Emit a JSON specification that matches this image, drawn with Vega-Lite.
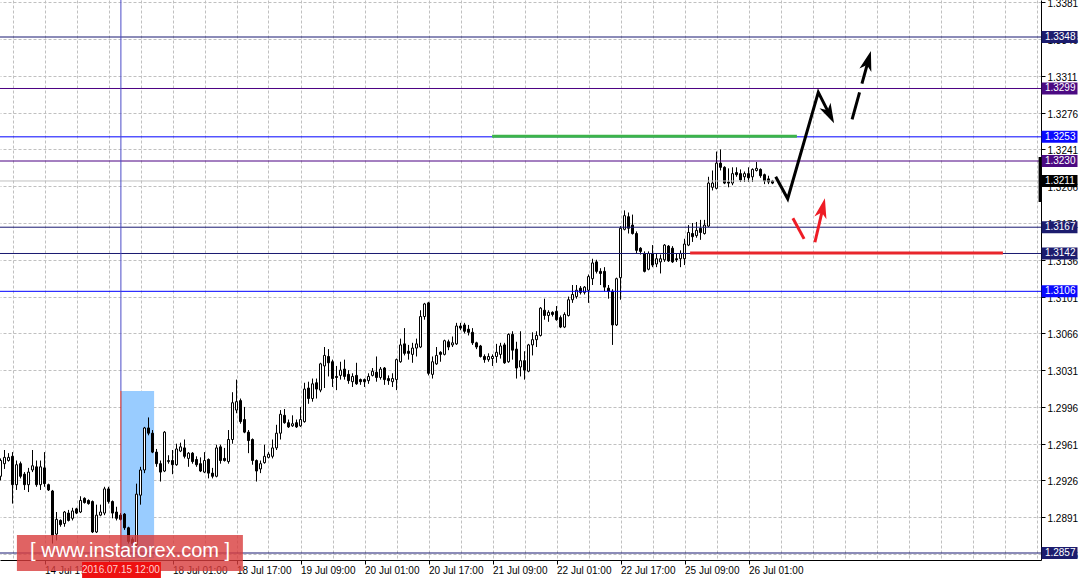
{
"$schema": "https://vega.github.io/schema/vega-lite/v6.json",
"width": 1041, "height": 560,
"autosize": {"type": "none"},
"padding": {"left": 0, "top": 0, "right": 38, "bottom": 25},
"background": "#ffffff",
"config": {"view": {"stroke": null}, "axis": {"titleOpacity": 0}},
"resolve": {"axis": {"x": "independent", "y": "independent"}},
"data": {"values": [{"anchor": 1}]},
"datasets": {
"candles": [
{"k":-3,"o":1.2930,"h":1.2947,"l":1.2926,"c":1.2945},
{"k":-2,"o":1.2942,"h":1.2955,"l":1.2937,"c":1.2948},
{"k":-1,"o":1.2945,"h":1.2952,"l":1.2944,"c":1.2948},
{"k":0,"o":1.2949,"h":1.2953,"l":1.2904,"c":1.2922},
{"k":1,"o":1.2922,"h":1.2945,"l":1.2917,"c":1.2941},
{"k":2,"o":1.2942,"h":1.2944,"l":1.2928,"c":1.2930},
{"k":3,"o":1.2932,"h":1.2934,"l":1.2917,"c":1.2922},
{"k":4,"o":1.2922,"h":1.2938,"l":1.2915,"c":1.2934},
{"k":5,"o":1.2936,"h":1.2955,"l":1.2934,"c":1.2940},
{"k":6,"o":1.2939,"h":1.2945,"l":1.2920,"c":1.2922},
{"k":7,"o":1.2922,"h":1.2945,"l":1.2917,"c":1.2939},
{"k":8,"o":1.2938,"h":1.2953,"l":1.2920,"c":1.2923},
{"k":9,"o":1.2922,"h":1.2923,"l":1.2916,"c":1.2917},
{"k":10,"o":1.2916,"h":1.2917,"l":1.2866,"c":1.2874},
{"k":11,"o":1.2875,"h":1.2896,"l":1.2869,"c":1.2889},
{"k":12,"o":1.2888,"h":1.2889,"l":1.2882,"c":1.2884},
{"k":13,"o":1.2885,"h":1.2897,"l":1.2882,"c":1.2896},
{"k":14,"o":1.2895,"h":1.2898,"l":1.2887,"c":1.2888},
{"k":15,"o":1.2890,"h":1.2900,"l":1.2888,"c":1.2897},
{"k":16,"o":1.2899,"h":1.2900,"l":1.2894,"c":1.2895},
{"k":17,"o":1.2896,"h":1.2911,"l":1.2895,"c":1.2907},
{"k":18,"o":1.2909,"h":1.2910,"l":1.2904,"c":1.2905},
{"k":19,"o":1.2907,"h":1.2908,"l":1.2903,"c":1.2904},
{"k":20,"o":1.2906,"h":1.2907,"l":1.2876,"c":1.2877},
{"k":21,"o":1.2877,"h":1.2903,"l":1.2876,"c":1.2893},
{"k":22,"o":1.2893,"h":1.2903,"l":1.2892,"c":1.2896},
{"k":23,"o":1.2895,"h":1.2920,"l":1.2893,"c":1.2918},
{"k":24,"o":1.2918,"h":1.2920,"l":1.2904,"c":1.2906},
{"k":25,"o":1.2906,"h":1.2907,"l":1.2890,"c":1.2895},
{"k":26,"o":1.2896,"h":1.2901,"l":1.2888,"c":1.2890},
{"k":27,"o":1.2893,"h":1.2895,"l":1.2888,"c":1.2889},
{"k":28,"o":1.2894,"h":1.2895,"l":1.2879,"c":1.2881},
{"k":29,"o":1.2881,"h":1.2882,"l":1.2866,"c":1.2868},
{"k":30,"o":1.2870,"h":1.2872,"l":1.2864,"c":1.2866},
{"k":31,"o":1.2865,"h":1.2923,"l":1.2863,"c":1.2913},
{"k":32,"o":1.2912,"h":1.2939,"l":1.2903,"c":1.2936},
{"k":33,"o":1.2936,"h":1.2977,"l":1.2933,"c":1.2976},
{"k":34,"o":1.2976,"h":1.2986,"l":1.2969,"c":1.2971},
{"k":35,"o":1.2971,"h":1.2974,"l":1.2952,"c":1.2953},
{"k":36,"o":1.2953,"h":1.2956,"l":1.2939,"c":1.2942},
{"k":37,"o":1.2942,"h":1.2945,"l":1.2925,"c":1.2934},
{"k":38,"o":1.2935,"h":1.2973,"l":1.2934,"c":1.2972},
{"k":39,"o":1.2944,"h":1.2950,"l":1.2942,"c":1.2945},
{"k":40,"o":1.2945,"h":1.2955,"l":1.2932,"c":1.2941},
{"k":41,"o":1.2941,"h":1.2961,"l":1.2940,"c":1.2956},
{"k":42,"o":1.2954,"h":1.2962,"l":1.2953,"c":1.2958},
{"k":43,"o":1.2957,"h":1.2965,"l":1.2947,"c":1.2949},
{"k":44,"o":1.2947,"h":1.2953,"l":1.2939,"c":1.2952},
{"k":45,"o":1.2952,"h":1.2953,"l":1.2942,"c":1.2944},
{"k":46,"o":1.2946,"h":1.2949,"l":1.2939,"c":1.2941},
{"k":47,"o":1.2942,"h":1.2948,"l":1.2934,"c":1.2935},
{"k":48,"o":1.2934,"h":1.2953,"l":1.2933,"c":1.2945},
{"k":49,"o":1.2946,"h":1.2947,"l":1.2928,"c":1.2933},
{"k":50,"o":1.2933,"h":1.2938,"l":1.2928,"c":1.2930},
{"k":51,"o":1.2930,"h":1.2960,"l":1.2929,"c":1.2957},
{"k":52,"o":1.2958,"h":1.2960,"l":1.2942,"c":1.2945},
{"k":53,"o":1.2947,"h":1.2957,"l":1.2944,"c":1.2945},
{"k":54,"o":1.2944,"h":1.2974,"l":1.2942,"c":1.2965},
{"k":55,"o":1.2965,"h":1.3010,"l":1.2961,"c":1.3000},
{"k":56,"o":1.2993,"h":1.3022,"l":1.2990,"c":1.3001},
{"k":57,"o":1.3002,"h":1.3004,"l":1.2980,"c":1.2982},
{"k":58,"o":1.2984,"h":1.2996,"l":1.2971,"c":1.2972},
{"k":59,"o":1.2972,"h":1.2974,"l":1.2952,"c":1.2964},
{"k":60,"o":1.2965,"h":1.2966,"l":1.2941,"c":1.2945},
{"k":61,"o":1.2945,"h":1.2946,"l":1.2925,"c":1.2935},
{"k":62,"o":1.2937,"h":1.2945,"l":1.2933,"c":1.2942},
{"k":63,"o":1.2943,"h":1.2960,"l":1.2942,"c":1.2949},
{"k":64,"o":1.2948,"h":1.2953,"l":1.2947,"c":1.2951},
{"k":65,"o":1.2949,"h":1.2965,"l":1.2947,"c":1.2957},
{"k":66,"o":1.2957,"h":1.2979,"l":1.2955,"c":1.2971},
{"k":67,"o":1.2971,"h":1.2993,"l":1.2965,"c":1.2989},
{"k":68,"o":1.2988,"h":1.2994,"l":1.2980,"c":1.2981},
{"k":69,"o":1.2981,"h":1.2984,"l":1.2976,"c":1.2977},
{"k":70,"o":1.2978,"h":1.2988,"l":1.2977,"c":1.2980},
{"k":71,"o":1.2981,"h":1.2984,"l":1.2976,"c":1.2977},
{"k":72,"o":1.2978,"h":1.2996,"l":1.2977,"c":1.2984},
{"k":73,"o":1.2982,"h":1.3019,"l":1.2981,"c":1.3013},
{"k":74,"o":1.3014,"h":1.3020,"l":1.2999,"c":1.3004},
{"k":75,"o":1.3004,"h":1.3023,"l":1.3001,"c":1.3018},
{"k":76,"o":1.3019,"h":1.3023,"l":1.3004,"c":1.3013},
{"k":77,"o":1.3012,"h":1.3038,"l":1.3010,"c":1.3037},
{"k":78,"o":1.3035,"h":1.3053,"l":1.3014,"c":1.3045},
{"k":79,"o":1.3044,"h":1.3051,"l":1.3025,"c":1.3038},
{"k":80,"o":1.3039,"h":1.3041,"l":1.3015,"c":1.3023},
{"k":81,"o":1.3025,"h":1.3035,"l":1.3012,"c":1.3024},
{"k":82,"o":1.3026,"h":1.3039,"l":1.3022,"c":1.3031},
{"k":83,"o":1.3032,"h":1.3041,"l":1.3022,"c":1.3025},
{"k":84,"o":1.3027,"h":1.3031,"l":1.3018,"c":1.3021},
{"k":85,"o":1.3020,"h":1.3028,"l":1.3015,"c":1.3025},
{"k":86,"o":1.3026,"h":1.3038,"l":1.3017,"c":1.3018},
{"k":87,"o":1.3022,"h":1.3023,"l":1.3017,"c":1.3020},
{"k":88,"o":1.3022,"h":1.3023,"l":1.3015,"c":1.3020},
{"k":89,"o":1.3021,"h":1.3028,"l":1.3018,"c":1.3025},
{"k":90,"o":1.3026,"h":1.3033,"l":1.3025,"c":1.3030},
{"k":91,"o":1.3029,"h":1.3044,"l":1.3020,"c":1.3024},
{"k":92,"o":1.3024,"h":1.3034,"l":1.3022,"c":1.3032},
{"k":93,"o":1.3033,"h":1.3034,"l":1.3017,"c":1.3022},
{"k":94,"o":1.3023,"h":1.3026,"l":1.3017,"c":1.3021},
{"k":95,"o":1.3020,"h":1.3028,"l":1.3015,"c":1.3023},
{"k":96,"o":1.3022,"h":1.3042,"l":1.3012,"c":1.3041},
{"k":97,"o":1.3039,"h":1.3061,"l":1.3038,"c":1.3055},
{"k":98,"o":1.3056,"h":1.3071,"l":1.3045,"c":1.3047},
{"k":99,"o":1.3049,"h":1.3055,"l":1.3041,"c":1.3047},
{"k":100,"o":1.3046,"h":1.3057,"l":1.3038,"c":1.3052},
{"k":101,"o":1.3052,"h":1.3061,"l":1.3044,"c":1.3056},
{"k":102,"o":1.3053,"h":1.3088,"l":1.3052,"c":1.3082},
{"k":103,"o":1.3082,"h":1.3095,"l":1.3079,"c":1.3094},
{"k":104,"o":1.3095,"h":1.3096,"l":1.3026,"c":1.3028},
{"k":105,"o":1.3027,"h":1.3044,"l":1.3023,"c":1.3039},
{"k":106,"o":1.3037,"h":1.3053,"l":1.3036,"c":1.3045},
{"k":107,"o":1.3048,"h":1.3049,"l":1.3039,"c":1.3046},
{"k":108,"o":1.3046,"h":1.3060,"l":1.3045,"c":1.3059},
{"k":109,"o":1.3058,"h":1.3060,"l":1.3050,"c":1.3053},
{"k":110,"o":1.3055,"h":1.3063,"l":1.3053,"c":1.3057},
{"k":111,"o":1.3056,"h":1.3076,"l":1.3055,"c":1.3073},
{"k":112,"o":1.3073,"h":1.3076,"l":1.3069,"c":1.3071},
{"k":113,"o":1.3074,"h":1.3076,"l":1.3066,"c":1.3068},
{"k":114,"o":1.3070,"h":1.3074,"l":1.3064,"c":1.3067},
{"k":115,"o":1.3067,"h":1.3071,"l":1.3055,"c":1.3057},
{"k":116,"o":1.3057,"h":1.3058,"l":1.3051,"c":1.3053},
{"k":117,"o":1.3054,"h":1.3055,"l":1.3043,"c":1.3044},
{"k":118,"o":1.3044,"h":1.3046,"l":1.3038,"c":1.3041},
{"k":119,"o":1.3041,"h":1.3047,"l":1.3039,"c":1.3044},
{"k":120,"o":1.3042,"h":1.3046,"l":1.3035,"c":1.3044},
{"k":121,"o":1.3044,"h":1.3056,"l":1.3038,"c":1.3048},
{"k":122,"o":1.3046,"h":1.3057,"l":1.3042,"c":1.3054},
{"k":123,"o":1.3055,"h":1.3057,"l":1.3037,"c":1.3038},
{"k":124,"o":1.3039,"h":1.3066,"l":1.3038,"c":1.3065},
{"k":125,"o":1.3065,"h":1.3068,"l":1.3041,"c":1.3050},
{"k":126,"o":1.3051,"h":1.3058,"l":1.3023,"c":1.3033},
{"k":127,"o":1.3034,"h":1.3068,"l":1.3025,"c":1.3040},
{"k":128,"o":1.3040,"h":1.3049,"l":1.3022,"c":1.3031},
{"k":129,"o":1.3030,"h":1.3056,"l":1.3029,"c":1.3055},
{"k":130,"o":1.3055,"h":1.3067,"l":1.3045,"c":1.3060},
{"k":131,"o":1.3060,"h":1.3068,"l":1.3053,"c":1.3064},
{"k":132,"o":1.3064,"h":1.3091,"l":1.3063,"c":1.3090},
{"k":133,"o":1.3088,"h":1.3099,"l":1.3079,"c":1.3083},
{"k":134,"o":1.3083,"h":1.3088,"l":1.3077,"c":1.3086},
{"k":135,"o":1.3086,"h":1.3087,"l":1.3082,"c":1.3084},
{"k":136,"o":1.3087,"h":1.3092,"l":1.3078,"c":1.3079},
{"k":137,"o":1.3081,"h":1.3083,"l":1.3071,"c":1.3072},
{"k":138,"o":1.3072,"h":1.3086,"l":1.3071,"c":1.3084},
{"k":139,"o":1.3083,"h":1.3101,"l":1.3082,"c":1.3098},
{"k":140,"o":1.3098,"h":1.3112,"l":1.3095,"c":1.3103},
{"k":141,"o":1.3101,"h":1.3112,"l":1.3099,"c":1.3107},
{"k":142,"o":1.3109,"h":1.3111,"l":1.3103,"c":1.3105},
{"k":143,"o":1.3105,"h":1.3111,"l":1.3103,"c":1.3110},
{"k":144,"o":1.3107,"h":1.3122,"l":1.3095,"c":1.3120},
{"k":145,"o":1.3118,"h":1.3137,"l":1.3112,"c":1.3133},
{"k":146,"o":1.3134,"h":1.3136,"l":1.3123,"c":1.3125},
{"k":147,"o":1.3125,"h":1.3128,"l":1.3112,"c":1.3123},
{"k":148,"o":1.3125,"h":1.3129,"l":1.3106,"c":1.3110},
{"k":149,"o":1.3109,"h":1.3112,"l":1.3099,"c":1.3106},
{"k":150,"o":1.3106,"h":1.3108,"l":1.3055,"c":1.3074},
{"k":151,"o":1.3074,"h":1.3119,"l":1.3073,"c":1.3118},
{"k":152,"o":1.3119,"h":1.3168,"l":1.3098,"c":1.3166},
{"k":153,"o":1.3165,"h":1.3183,"l":1.3164,"c":1.3178},
{"k":154,"o":1.3177,"h":1.3181,"l":1.3161,"c":1.3166},
{"k":155,"o":1.3169,"h":1.3179,"l":1.3160,"c":1.3161},
{"k":156,"o":1.3161,"h":1.3163,"l":1.3142,"c":1.3145},
{"k":157,"o":1.3147,"h":1.3148,"l":1.3141,"c":1.3144},
{"k":158,"o":1.3142,"h":1.3144,"l":1.3124,"c":1.3125},
{"k":159,"o":1.3127,"h":1.3144,"l":1.3126,"c":1.3142},
{"k":160,"o":1.3142,"h":1.3150,"l":1.3129,"c":1.3131},
{"k":161,"o":1.3132,"h":1.3142,"l":1.3129,"c":1.3137},
{"k":162,"o":1.3134,"h":1.3141,"l":1.3123,"c":1.3137},
{"k":163,"o":1.3136,"h":1.3151,"l":1.3134,"c":1.3150},
{"k":164,"o":1.3149,"h":1.3150,"l":1.3134,"c":1.3135},
{"k":165,"o":1.3147,"h":1.3149,"l":1.3133,"c":1.3134},
{"k":166,"o":1.3137,"h":1.3142,"l":1.3134,"c":1.3136},
{"k":167,"o":1.3137,"h":1.3145,"l":1.3129,"c":1.3142},
{"k":168,"o":1.3137,"h":1.3156,"l":1.3131,"c":1.3151},
{"k":169,"o":1.3150,"h":1.3169,"l":1.3149,"c":1.3162},
{"k":170,"o":1.3161,"h":1.3171,"l":1.3153,"c":1.3158},
{"k":171,"o":1.3159,"h":1.3172,"l":1.3157,"c":1.3164},
{"k":172,"o":1.3166,"h":1.3174,"l":1.3155,"c":1.3162},
{"k":173,"o":1.3161,"h":1.3174,"l":1.3160,"c":1.3169},
{"k":174,"o":1.3168,"h":1.3215,"l":1.3167,"c":1.3209},
{"k":175,"o":1.3205,"h":1.3221,"l":1.3202,"c":1.3209},
{"k":176,"o":1.3204,"h":1.3239,"l":1.3203,"c":1.3228},
{"k":177,"o":1.3228,"h":1.3241,"l":1.3221,"c":1.3224},
{"k":178,"o":1.3224,"h":1.3225,"l":1.3208,"c":1.3209},
{"k":179,"o":1.3210,"h":1.3223,"l":1.3205,"c":1.3209},
{"k":180,"o":1.3209,"h":1.3224,"l":1.3207,"c":1.3218},
{"k":181,"o":1.3219,"h":1.3224,"l":1.3215,"c":1.3217},
{"k":182,"o":1.3218,"h":1.3222,"l":1.3210,"c":1.3212},
{"k":183,"o":1.3215,"h":1.3220,"l":1.3210,"c":1.3218},
{"k":184,"o":1.3218,"h":1.3224,"l":1.3210,"c":1.3214},
{"k":185,"o":1.3215,"h":1.3223,"l":1.3210,"c":1.3222},
{"k":186,"o":1.3221,"h":1.3229,"l":1.3220,"c":1.3223},
{"k":187,"o":1.3222,"h":1.3223,"l":1.3214,"c":1.3216},
{"k":188,"o":1.3217,"h":1.3218,"l":1.3208,"c":1.3211},
{"k":189,"o":1.3213,"h":1.3216,"l":1.3208,"c":1.3210},
{"k":190,"o":1.3211,"h":1.3212,"l":1.3208,"c":1.3209}
],
"levels": [
{"p":1.3348,"kind":"navy"},
{"p":1.3299,"kind":"indigo"},
{"p":1.3253,"kind":"blue"},
{"p":1.3230,"kind":"indigo"},
{"p":1.3211,"kind":"bid"},
{"p":1.3167,"kind":"navy"},
{"p":1.3142,"kind":"navy"},
{"p":1.3106,"kind":"blue"},
{"p":1.2857,"kind":"navy"}
],
"paths": [
{"path":"up","o":1,"k":190.8,"p":1.32151},
{"path":"up","o":2,"k":193.8,"p":1.31941},
{"path":"up","o":3,"k":201.45,"p":1.32954},
{"path":"up","o":4,"k":204.25,"p":1.32744},
{"path":"dash","o":1,"k":209.9,"p":1.32697},
{"path":"dash","o":2,"k":213.95,"p":1.33255},
{"path":"redA","o":1,"k":195.1,"p":1.31755},
{"path":"redA","o":2,"k":197.9,"p":1.31559},
{"path":"redB","o":1,"k":200.6,"p":1.31527},
{"path":"redB","o":2,"k":202.6,"p":1.31853}
],
"heads": [
{"k":205.4,"p":1.32659,"heading":153,"kind":"black"},
{"k":214.6,"p":1.33347,"heading":16,"kind":"black"},
{"k":203.1,"p":1.31945,"heading":13,"kind":"red"}
],
"notes": [
{"k":29.4,"p":1.28585,"t":"[ www.instaforex.com ]","kind":"mark"},
{"k":27.1,"p":1.28408,"t":"2016.07.15 12:00","kind":"cross"}
]
},
"layer": [
{
"mark": {"type": "rect", "color": "#99ccff", "opacity": 1},
"encoding": {
"x": {"datum": 27.1, "type": "quantitative", "axis": null},
"x2": {"datum": 35.4},
"y": {"datum": 1.30112, "type": "quantitative", "axis": null},
"y2": {"datum": 1.2852}
}
},
{
"data": {"name": "candles"},
"mark": {"type": "rule", "color": "#000000", "strokeWidth": 1},
"encoding": {
"x": {"field": "k", "type": "quantitative", "title": null,
"scale": {"domain": [-3.125, 257.125], "nice": false, "zero": false, "padding": 0},
"axis": {"orient": "bottom", "title": null,
"values": [0,8,16,24,32,40,48,56,64,72,80,88,96,104,112,120,128,136,144,152,160,168,176,184,192,200,208,216,224,232,240,248,256],
"labelExpr": "(datum.value % 16 == 8 && datum.value <= 184 && datum.value != 24) ? ['14 Jul 17:00','15 Jul 09:00','18 Jul 01:00','18 Jul 17:00','19 Jul 09:00','20 Jul 01:00','20 Jul 17:00','21 Jul 09:00','22 Jul 01:00','22 Jul 17:00','25 Jul 09:00','26 Jul 01:00'][(datum.value - 8) / 16] : ''",
"labelAlign": "left", "labelBaseline": "top", "labelFlush": false, "labelOverlap": false, "labelBound": false,
"labelFont": "Liberation Sans", "labelFontSize": 10, "labelColor": "#000000", "labelPadding": 1,
"tickSize": 4, "tickColor": "#000000",
"tickOpacity": {"condition": {"test": "datum.value % 16 == 8 && datum.value <= 184", "value": 1}, "value": 0},
"domainColor": "#000000", "domainWidth": 1,
"grid": true, "gridColor": "#c0c0c0", "gridDash": [3, 2], "gridWidth": 1}},
"y": {"field": "l", "type": "quantitative", "title": null,
"scale": {"domain": [1.285034, 1.338321], "nice": false, "zero": false, "padding": 0},
"axis": {"orient": "right", "title": null,
"values": [1.2856,1.2891,1.2926,1.2961,1.2996,1.3031,1.3066,1.3101,1.3136,1.3171,1.3206,1.3241,1.3276,1.3311,1.3346,1.3381],
"format": ".4f", "labelFont": "Liberation Sans", "labelFontSize": 10, "labelColor": "#000000",
"labelPadding": 2, "labelOffset": 1.5, "labelFlush": false, "labelOverlap": false, "labelBound": false,
"tickSize": 4, "tickColor": "#000000", "domainColor": "#000000",
"grid": true, "gridColor": "#c0c0c0", "gridDash": [3, 2], "gridWidth": 1}},
"y2": {"field": "h"}
}
},
{
"data": {"name": "candles"},
"mark": {"type": "bar", "size": 2, "stroke": "#000000", "strokeWidth": 1, "orient": "vertical"},
"encoding": {
"x": {"field": "k", "type": "quantitative", "axis": null},
"y": {"field": "o", "type": "quantitative", "axis": null},
"y2": {"field": "c"},
"fill": {"condition": {"test": "datum.c > datum.o", "value": "#ffffff"}, "value": "#000000"}
}
},
{
"data": {"name": "levels"},
"mark": {"type": "rule", "strokeWidth": 1},
"encoding": {
"y": {"field": "p", "type": "quantitative", "axis": null},
"stroke": {"field": "kind", "type": "nominal", "legend": null,
"scale": {"domain": ["navy", "indigo", "blue", "bid"], "range": ["#191970", "#4b0082", "#0000ff", "#c0c0c0"]}}
}
},
{
"mark": {"type": "rule", "color": "#3cb44a", "strokeWidth": 3},
"encoding": {
"x": {"datum": 119.9, "type": "quantitative", "axis": null},
"x2": {"datum": 196.1},
"y": {"datum": 1.32535, "type": "quantitative", "axis": null}
}
},
{
"mark": {"type": "rule", "color": "#e8262c", "strokeWidth": 3},
"encoding": {
"x": {"datum": 169.4, "type": "quantitative", "axis": null},
"x2": {"datum": 247.6},
"y": {"datum": 1.31425, "type": "quantitative", "axis": null}
}
},
{
"mark": {"type": "rule", "color": "#4a4ac8", "strokeWidth": 1},
"encoding": {
"x": {"datum": 27.1, "type": "quantitative", "axis": null},
"y": {"datum": 1.338321, "type": "quantitative", "axis": null},
"y2": {"datum": 1.30112}
}
},
{
"mark": {"type": "rule", "color": "#cc1111", "strokeWidth": 1},
"encoding": {
"x": {"datum": 27.1, "type": "quantitative", "axis": null},
"y": {"datum": 1.30112, "type": "quantitative", "axis": null},
"y2": {"datum": 1.2852}
}
},
{
"data": {"name": "paths"},
"transform": [{"filter": "datum.path == 'up'"}],
"mark": {"type": "line", "color": "#000000", "strokeWidth": 3, "strokeJoin": "miter"},
"encoding": {
"x": {"field": "k", "type": "quantitative", "axis": null},
"y": {"field": "p", "type": "quantitative", "axis": null},
"order": {"field": "o"}
}
},
{
"data": {"name": "paths"},
"transform": [{"filter": "datum.path == 'dash'"}],
"mark": {"type": "line", "color": "#000000", "strokeWidth": 3, "strokeDash": [28, 9]},
"encoding": {
"x": {"field": "k", "type": "quantitative", "axis": null},
"y": {"field": "p", "type": "quantitative", "axis": null},
"order": {"field": "o"}
}
},
{
"data": {"name": "paths"},
"transform": [{"filter": "datum.path == 'redA' || datum.path == 'redB'"}],
"mark": {"type": "line", "color": "#ee1c25", "strokeWidth": 3},
"encoding": {
"x": {"field": "k", "type": "quantitative", "axis": null},
"y": {"field": "p", "type": "quantitative", "axis": null},
"detail": {"field": "path"},
"order": {"field": "o"}
}
},
{
"data": {"name": "heads"},
"mark": {"type": "point", "shape": "M0,0L0.62,2L0,1.45L-0.62,2Z", "size": 400, "filled": true, "opacity": 1, "strokeWidth": 0},
"encoding": {
"x": {"field": "k", "type": "quantitative", "axis": null},
"y": {"field": "p", "type": "quantitative", "axis": null},
"angle": {"field": "heading", "type": "quantitative", "scale": {"domain": [0, 360], "range": [0, 360]}},
"fill": {"condition": {"test": "datum.kind == 'red'", "value": "#ee1c25"}, "value": "#000000"}
}
},
{
"mark": {"type": "rect", "color": "#d83c3c", "opacity": 0.8},
"encoding": {
"x": {"datum": 1.1, "type": "quantitative", "axis": null},
"x2": {"datum": 57.6},
"y": {"datum": 1.28741, "type": "quantitative", "axis": null},
"y2": {"datum": 1.28399}
}
},
{
"mark": {"type": "rect", "color": "#ee1111", "opacity": 1},
"encoding": {
"x": {"datum": 17.4, "type": "quantitative", "axis": null},
"x2": {"datum": 37.1},
"y": {"datum": 1.28484, "type": "quantitative", "axis": null},
"y2": {"datum": 1.28332}
}
},
{
"data": {"name": "notes"},
"transform": [{"filter": "datum.kind == 'mark'"}],
"mark": {"type": "text", "font": "Liberation Sans", "fontSize": 20, "color": "#ffffff", "align": "center", "baseline": "middle"},
"encoding": {
"x": {"field": "k", "type": "quantitative", "axis": null},
"y": {"field": "p", "type": "quantitative", "axis": null},
"text": {"field": "t"}
}
},
{
"data": {"name": "notes"},
"transform": [{"filter": "datum.kind == 'cross'"}],
"mark": {"type": "text", "font": "Liberation Sans", "fontSize": 10, "color": "#ffd0d0", "align": "center", "baseline": "middle"},
"encoding": {
"x": {"field": "k", "type": "quantitative", "axis": null},
"y": {"field": "p", "type": "quantitative", "axis": null},
"text": {"field": "t"}
}
},
{
"data": {"name": "levels"},
"mark": {"type": "tick", "orient": "horizontal", "size": 36, "thickness": 12, "opacity": 1},
"encoding": {
"x": {"datum": 261.75, "type": "quantitative", "axis": null},
"y": {"field": "p", "type": "quantitative", "axis": null},
"fill": {"field": "kind", "type": "nominal", "legend": null,
"scale": {"domain": ["navy", "indigo", "blue", "bid"], "range": ["#1c1c6e", "#4b0a82", "#0a0aff", "#000000"]}}
}
},
{
"data": {"name": "levels"},
"mark": {"type": "text", "font": "Liberation Sans", "fontSize": 10, "color": "#ffffff", "align": "left", "baseline": "middle"},
"encoding": {
"x": {"datum": 258.1, "type": "quantitative", "axis": null},
"y": {"field": "p", "type": "quantitative", "axis": null},
"text": {"field": "p", "type": "quantitative", "format": ".4f"}
}
},
{
"mark": {"type": "rule", "color": "#000000", "strokeWidth": 3},
"encoding": {
"x": {"datum": 256.9, "type": "quantitative", "axis": null},
"y": {"datum": 1.32338, "type": "quantitative", "axis": null},
"y2": {"datum": 1.3191}
}
}
]
}
